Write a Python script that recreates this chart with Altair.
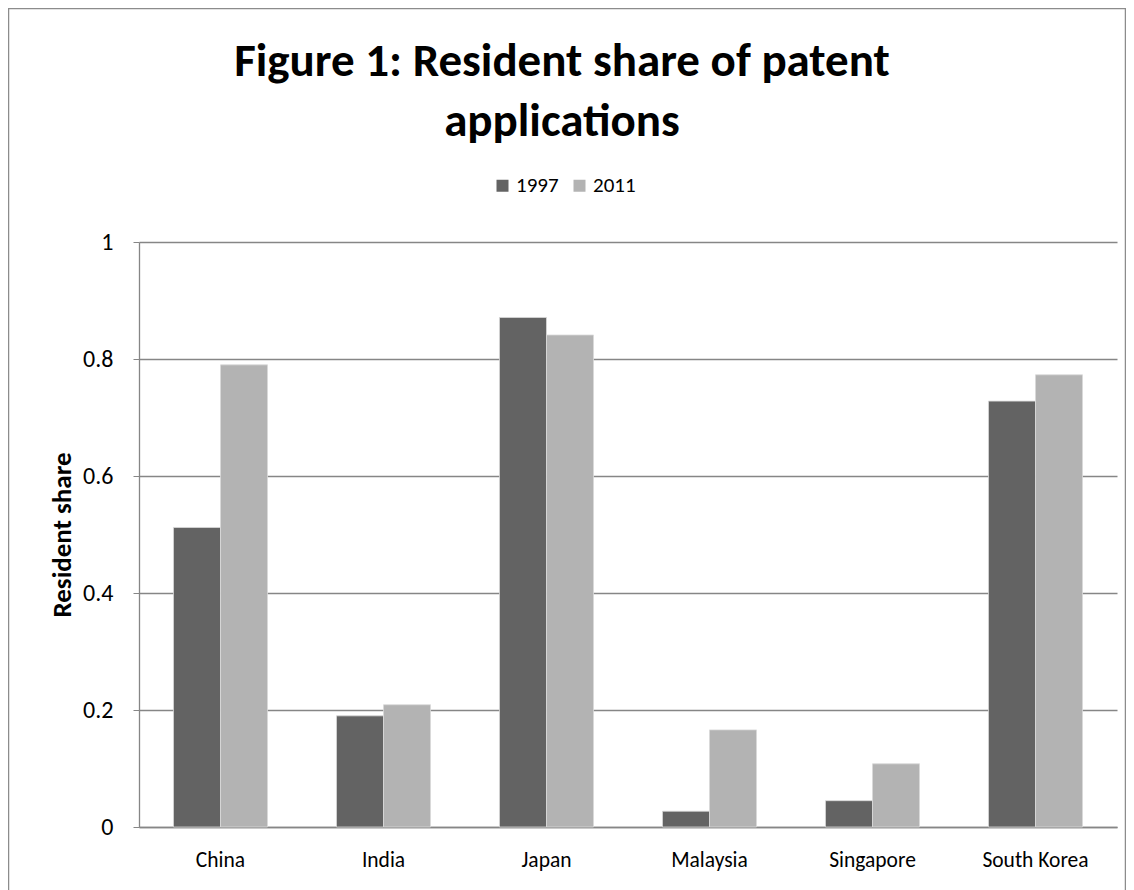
import altair as alt
import pandas as pd

countries = ["China", "India", "Japan", "Malaysia", "Singapore", "South Korea"]
share_1997 = [0.512, 0.190, 0.871, 0.027, 0.045, 0.728]
share_2011 = [0.790, 0.209, 0.841, 0.166, 0.108, 0.773]
years = ["1997", "2011"]
colors = ["#636363", "#b3b3b3"]

rows = []
for c, a, b in zip(countries, share_1997, share_2011):
    rows.append({"country": c, "year": "1997", "share": a})
    rows.append({"country": c, "year": "2011", "share": b})
df = pd.DataFrame(rows)

FONT = "Carlito, 'Liberation Sans Narrow', Calibri, sans-serif"

bars = alt.Chart(df).mark_bar(stroke="#d9d9d9", strokeWidth=0.8).encode(
    x=alt.X("country:N", sort=countries, title=None,
            scale=alt.Scale(paddingInner=0.423, paddingOuter=0.2115),
            axis=alt.Axis(labelAngle=0, labelFontSize=21.5, labelColor="#000000",
                          labelPadding=22, ticks=False, domainColor="#868686",
                          domainWidth=1.3, grid=False, labelFont=FONT)),
    xOffset=alt.XOffset("year:N", sort=years),
    y=alt.Y("share:Q", title="Resident share",
            scale=alt.Scale(domain=[0, 1]),
            axis=alt.Axis(values=[0, 0.2, 0.4, 0.6, 0.8, 1.0], format="~g",
                          labelFontSize=24, labelColor="#000000", labelPadding=20,
                          tickSize=6, tickColor="#868686", domainColor="#868686",
                          domainWidth=1.3, gridColor="#868686", gridWidth=1.3,
                          titleFontSize=27, titleFontWeight="bold", titleColor="#000000",
                          titleAngle=270, titleAlign="center", titleBaseline="middle",
                          titleX=-77, titleY=292.5, labelFont=FONT, titleFont=FONT)),
    color=alt.Color("year:N", sort=years,
                    scale=alt.Scale(domain=years, range=colors),
                    legend=alt.Legend(title=None, orient="none", direction="horizontal",
                                      legendX=353, legendY=-67, symbolType="square",
                                      symbolSize=144, symbolStrokeWidth=0,
                                      labelFontSize=21, labelColor="#000000",
                                      labelFont=FONT, columnPadding=10, padding=0,
                                      labelOffset=3)),
)

border = alt.Chart(alt.Data(values=[{"a": 1}])).mark_rect(
    fill=None, stroke="#8c8c8c", strokeWidth=1.5
).encode(
    x=alt.value(-130.5), x2=alt.value(986.5),
    y=alt.value(-233.5), y2=alt.value(720),
)

chart = alt.layer(border, bars).properties(
    width=978, height=585,
    autosize=alt.AutoSizeParams(type="none"),
    padding={"left": 131, "top": 234, "right": 9, "bottom": 63},
    title=alt.TitleParams(
        text=["Figure 1: Resident share of patent", "applications"],
        fontSize=47, font=FONT, fontWeight="bold", color="#000000",
        anchor="middle", frame="group", dx=-66, lineHeight=60, offset=-185,
        baseline="bottom",
    ),
).configure_view(stroke=None)

chart.save("out.html", embed_options={"renderer": "svg", "actions": False})
